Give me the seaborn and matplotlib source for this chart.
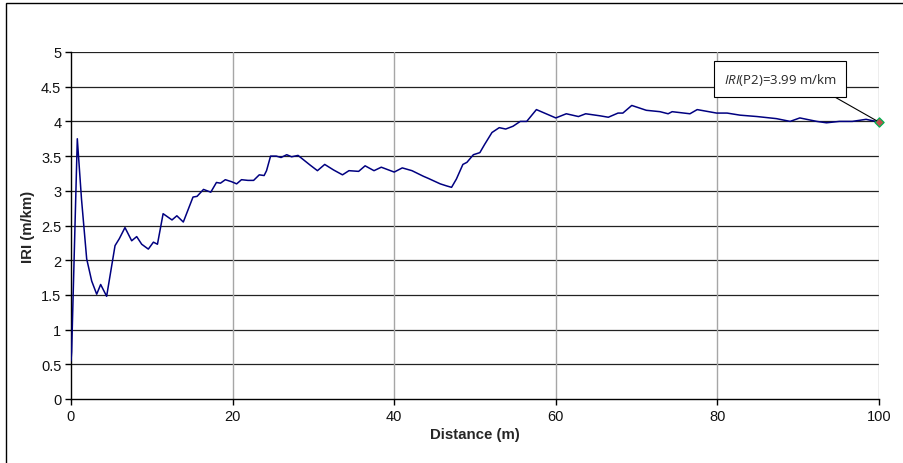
import matplotlib
matplotlib.use("Agg")
import matplotlib.pyplot as plt
import seaborn as sns
import pandas as pd
from matplotlib.patches import Rectangle

distance = [0.0, 0.08, 0.78, 1.3, 1.94, 2.56, 3.18, 3.67, 4.41, 5.45, 5.98, 6.68, 7.51, 8.13,
            8.75, 9.57, 10.2, 10.7, 11.4, 12.5, 13.1, 13.9, 15.1, 15.6, 16.4, 17.3, 18.0,
            18.5, 19.1, 19.9, 20.5, 21.1, 21.9, 22.6, 23.3, 23.9, 24.2, 24.7, 25.4, 26.0,
            26.7, 27.3, 28.1, 29.6, 30.5, 31.4, 32.5, 33.6, 34.4, 35.6, 36.4, 37.5, 38.4,
            40.0, 41.0, 42.2, 43.6, 44.2, 45.7, 46.5, 47.1, 47.7, 48.5, 49.0, 49.8, 50.6,
            51.2, 52.1, 53.0, 53.8, 54.7, 55.6, 56.4, 57.6, 58.8, 60.0, 61.3, 62.8, 63.7,
            65.5, 66.5, 67.7, 68.3, 69.4, 71.2, 72.9, 73.9, 74.4, 76.6, 77.5, 79.9, 81.2,
            82.8, 84.9, 87.3, 89.0, 90.2, 92.3, 93.5, 95.1, 96.7, 98.4, 100.0]
iri = [0.55, 0.68, 3.75, 2.88, 2.02, 1.70, 1.51, 1.65, 1.48, 2.21, 2.31, 2.47, 2.28, 2.34,
       2.23, 2.16, 2.26, 2.23, 2.67, 2.58, 2.64, 2.55, 2.91, 2.92, 3.02, 2.98, 3.12,
       3.11, 3.16, 3.13, 3.10, 3.16, 3.15, 3.15, 3.23, 3.22, 3.29, 3.50, 3.50, 3.48,
       3.52, 3.49, 3.51, 3.37, 3.29, 3.38, 3.30, 3.23, 3.29, 3.28, 3.36, 3.29, 3.34,
       3.27, 3.33, 3.29, 3.21, 3.18, 3.10, 3.07, 3.05, 3.17, 3.38, 3.41, 3.52, 3.55,
       3.67, 3.84, 3.91, 3.89, 3.93, 4.00, 4.00, 4.17, 4.11, 4.05, 4.11, 4.07, 4.11,
       4.08, 4.06, 4.12, 4.12, 4.23, 4.16, 4.14, 4.11, 4.14, 4.11, 4.17, 4.12, 4.12,
       4.09, 4.07, 4.04, 4.00, 4.05, 4.00, 3.98, 4.00, 4.00, 4.03, 3.99]

final_x = [100.0]
final_y = [3.99]
y_ticks = [0, 0.5, 1, 1.5, 2, 2.5, 3, 3.5, 4, 4.5, 5]
y_tick_labels = ["0", "0.5", "1", "1.5", "2", "2.5", "3", "3.5", "4", "4.5", "5"]
x_ticks = [0, 20, 40, 60, 80, 100]

sns.set_theme(style="white")
plt.rcParams['font.family'] = ['Liberation Sans', 'DejaVu Sans']
plt.rcParams['mathtext.fontset'] = 'custom'
plt.rcParams['mathtext.it'] = 'Open Sans:italic'
plt.rcParams['mathtext.rm'] = 'Open Sans'

fig = plt.figure(figsize=(9.04, 4.64), dpi=100)
fig.patch.set_facecolor("white")
fig.patches.append(Rectangle((6/904, -0.1), 1.2, 1.1 - 4/464, transform=fig.transFigure,
                             fill=False, edgecolor="black", linewidth=1.0, zorder=0))
ax = fig.add_axes([71/904, 64/464, 808/904, 347/464])

df = pd.DataFrame({"Distance": distance, "IRI": iri})
sns.lineplot(data=df, x="Distance", y="IRI", ax=ax, color="#000080", linewidth=1.1,
             estimator=None, sort=False, zorder=3)
ax.scatter(final_x, final_y, marker="D", s=22, color="#c0504d", edgecolors="#00b050",
           linewidths=0.9, zorder=5, clip_on=False)

ax.set_xlim(0, 100)
ax.set_ylim(0, 5)
ax.set_yticks(y_ticks)
ax.set_yticklabels(y_tick_labels)
ax.set_xticks(x_ticks)

for y in y_ticks[1:]:
    ax.axhline(y, color="#222222", linewidth=0.9, zorder=1)
for x in x_ticks[1:]:
    ax.axvline(x, color="#a6a6a6", linewidth=1.0, zorder=1)

for s in ["top", "right"]:
    ax.spines[s].set_visible(False)
for s in ["left", "bottom"]:
    ax.spines[s].set_color("black")
    ax.spines[s].set_linewidth(1.0)

ax.tick_params(axis="both", which="major", direction="out", length=4, width=1.0,
               color="black", labelsize=10.5, labelcolor="#111111", pad=3, left=True, bottom=True)

ax.set_xlabel("Distance (m)", fontsize=10.8, fontweight="bold", labelpad=3)
ax.set_ylabel("IRI (m/km)", fontsize=10.8, fontweight="bold", labelpad=4)

ax.annotate(r"$\mathit{IRI}$(P2)=3.99 m/km", xy=(final_x[0], final_y[0]), xycoords="data",
            xytext=(780/904, 1 - 80/464), textcoords="figure fraction",
            ha="center", va="center", fontsize=9.5,
            family=['Open Sans', 'DejaVu Sans'],
            bbox=dict(boxstyle="square,pad=0.75", fc="white", ec="black", lw=0.8),
            arrowprops=dict(arrowstyle="-", color="black", lw=0.8,
                            shrinkA=0, shrinkB=2, relpos=(0.83, 0.0)),
            zorder=6)

fig.savefig("out.png", dpi=100)
